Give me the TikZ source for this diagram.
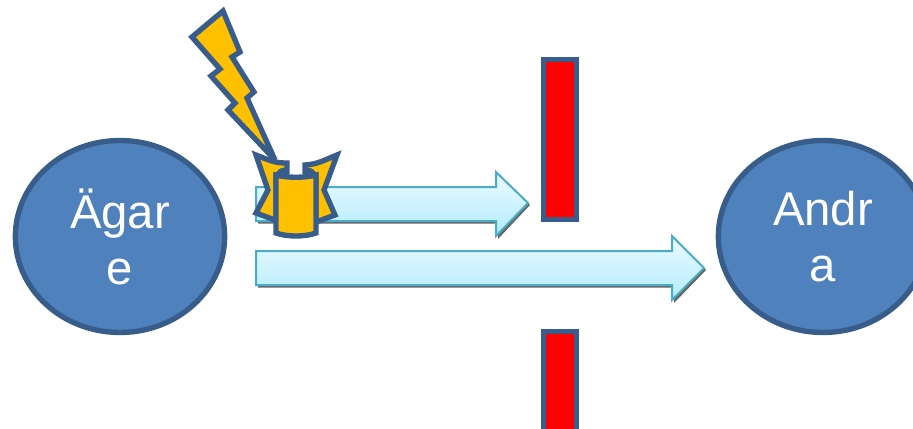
\documentclass[tikz,border=0pt]{standalone}
\usepackage{fontspec}
\setmainfont{Liberation Sans}
\usetikzlibrary{shapes.geometric}
\definecolor{blobfill}{HTML}{4F81BD}
\definecolor{blobline}{HTML}{385D8A}
\definecolor{amber}{HTML}{FFC000}
\definecolor{arrowline}{HTML}{4BACC6}
\definecolor{arrowlow}{HTML}{B0ECFF}
\tikzset{
  person/.style={ellipse,draw=blobline,fill=blobfill,line width=4pt,minimum width=157pt,minimum height=144pt,inner sep=0pt,align=center,text=white,font=\fontsize{35.5}{42}\selectfont},
  barrier/.style={draw=blobline,fill=red,line width=4pt,miter limit=10},
  flowarrow/.style={draw=arrowline,line width=1.5pt,top color=arrowlow!25!white,bottom color=arrowlow,middle color=arrowlow!60!white},
  flowshadow/.style={fill=black!60},
  spark/.style={draw=blobline,fill=amber,line width=4pt,line join=miter,miter limit=6},
}
\begin{document}
\begin{tikzpicture}[x=0.75pt,y=-0.75pt]
\useasboundingbox (0,0) rectangle (913,428);
\begin{scope}
\clip (0,0) rectangle (913,428);
\node[person] (owner) at (120,236.5) {Ägar\\e};
\node[person] (other) at (823,236.5) {Andr\\a};
% arrows
\fill[flowshadow] (258,189) -- (498,189) -- (498,174) -- (530,205) -- (498,239) -- (498,223.5) -- (258,223.5) -- cycle;
\path[flowarrow] (256,187) -- (496,187) -- (496,172) -- (528,203) -- (496,236) -- (496,221) -- (256,221) -- cycle;
\fill[flowshadow] (258,253) -- (674,253) -- (674,238) -- (706,270) -- (674,303) -- (674,287.5) -- (258,287.5) -- cycle;
\path[flowarrow] (256,251) -- (672,251) -- (672,236) -- (704,268) -- (672,300) -- (672,285) -- (256,285) -- cycle;
% barriers
\draw[barrier] (543.5,59.5) rectangle (576.5,219.5);
\draw[barrier] (543.5,331.5) rectangle (576.5,440);
% bolt
\draw[spark] (223,11) -- (192,37) -- (220,69) -- (211,76) -- (235,103) -- (228,110) -- (275,160) -- (247,98) -- (254,92) -- (232,57) -- (240,52) -- cycle;
% scroll
\draw[spark] (256,155) .. controls (271,161) and (275,163) .. (287,163) -- (287,172) -- (276,175) -- (276,220) -- (275,220) -- (256,213) -- (268,190) -- cycle;
\draw[spark] (337,155) .. controls (322,161) and (318,164) .. (305,165) -- (305,172) -- (316,175) -- (316,222) -- (335,215) -- (324,190) -- cycle;
\draw[spark] (276,175) .. controls (287,178) and (305,178) .. (316,175) -- (316,233) .. controls (305,237) and (287,237) .. (276,233) -- cycle;
\draw[blobline,line width=3.4pt] (278,174) .. controls (280,170) and (284,169) .. (288,170);
\draw[blobline,line width=3.4pt] (314,174) .. controls (312,170) and (308,169) .. (304,170);
\end{scope}
\end{tikzpicture}
\end{document}
